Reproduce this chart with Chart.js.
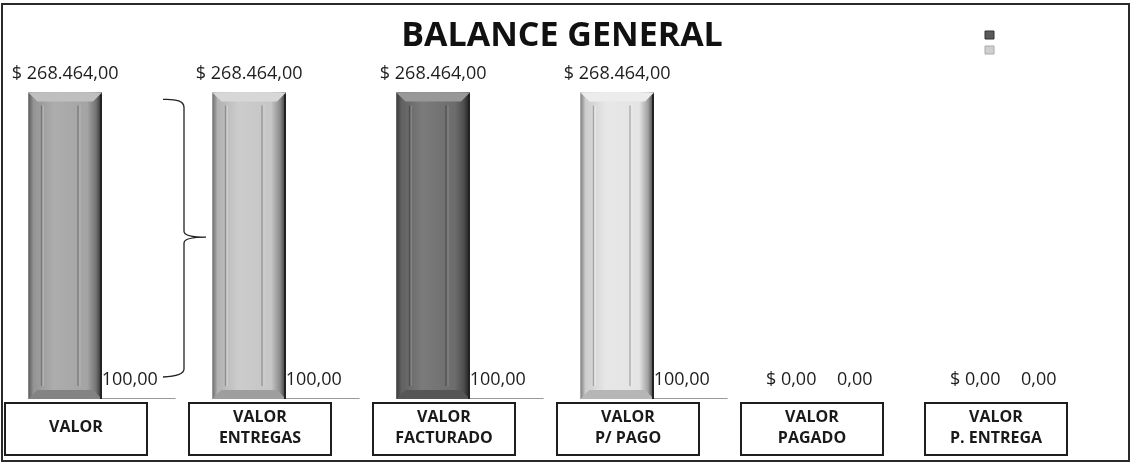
<!DOCTYPE html>
<html><head><meta charset="utf-8">
<script src="https://cdn.jsdelivr.net/npm/chart.js@4.4.0/dist/chart.umd.min.js"></script>
<style>html,body{margin:0;padding:0;background:#fff}#wrap{width:1132px;height:466px;position:relative}</style>
</head><body><div id="wrap"><canvas id="c" width="1132" height="466"></canvas></div>
<script>
// ---- data ----
const categories = [['VALOR'], ['VALOR', 'ENTREGAS'], ['VALOR', 'FACTURADO'], ['VALOR', 'P/ PAGO'], ['VALOR', 'PAGADO'], ['VALOR', 'P. ENTREGA']];
const valores = [268464, 268464, 268464, 268464, 0, 0];
const secundarios = [100, 100, 100, 100, 0, 0];
const barColors = ['#a4a4a4', '#c6c6c6', '#6c6c6c', '#e4e4e4', '#a4a4a4', '#a4a4a4'];
const chartTitle = 'BALANCE GENERAL';
const yMax = 300000;

function fmt(v) {
  const parts = v.toFixed(2).split('.');
  return parts[0].replace(/\B(?=(\d{3})+(?!\d))/g, '.') + ',' + parts[1];
}
function shade(hex, f) {
  const n = parseInt(hex.slice(1), 16);
  let r = (n >> 16) & 255, g = (n >> 8) & 255, b = n & 255;
  const t = f < 0 ? 0 : 255, p = Math.abs(f);
  r = Math.round(r + (t - r) * p); g = Math.round(g + (t - g) * p); b = Math.round(b + (t - b) * p);
  return 'rgb(' + r + ',' + g + ',' + b + ')';
}

const framePlugin = {
  id: 'frame',
  beforeDraw(chart) {
    const ctx = chart.ctx;
    ctx.save();
    ctx.fillStyle = '#fff';
    ctx.fillRect(0, 0, chart.width, chart.height);
    ctx.restore();
  },
  afterDraw(chart) {
    const ctx = chart.ctx;
    ctx.save();
    ctx.strokeStyle = '#2a2a2a';
    ctx.lineWidth = 2;
    ctx.strokeRect(2, 4, chart.width - 5, chart.height - 9);
    ctx.restore();
  }
};

const bevelPlugin = {
  id: 'bevel',
  afterDatasetDraw(chart, args) {
    if (args.index !== 0) return;
    const ctx = chart.ctx;
    const meta = chart.getDatasetMeta(0);
    meta.data.forEach((el, i) => {
      const p = el.getProps(['x', 'y', 'base', 'width'], true);
      const h = p.base - p.y;
      if (h < 4) return;
      const l = p.x - p.width / 2, r = p.x + p.width / 2, t = p.y, b = p.base, w = p.width;
      const c = barColors[i];
      ctx.save();
      const g = ctx.createLinearGradient(l, 0, r, 0);
      g.addColorStop(0, shade(c, -0.45));
      g.addColorStop(0.07, shade(c, -0.1));
      g.addColorStop(0.35, shade(c, 0.1));
      g.addColorStop(0.8, c);
      g.addColorStop(0.92, shade(c, -0.3));
      g.addColorStop(1, shade(c, -0.75));
      ctx.fillStyle = g;
      ctx.fillRect(l, t, w, h);
      const bv = 9;
      ctx.beginPath();
      ctx.moveTo(l, t); ctx.lineTo(r, t); ctx.lineTo(r - bv, t + bv); ctx.lineTo(l + bv, t + bv); ctx.closePath();
      ctx.fillStyle = shade(c, 0.3);
      ctx.fill();
      ctx.beginPath();
      ctx.moveTo(l, b); ctx.lineTo(r, b); ctx.lineTo(r - bv, b - bv); ctx.lineTo(l + bv, b - bv); ctx.closePath();
      ctx.fillStyle = shade(c, -0.2);
      ctx.fill();
      ctx.strokeStyle = shade(c, -0.28);
      ctx.lineWidth = 1.2;
      ctx.beginPath();
      ctx.moveTo(l + 13, t + bv + 4); ctx.lineTo(l + 13, b - bv - 4);
      ctx.moveTo(r - 24, t + bv + 4); ctx.lineTo(r - 24, b - bv - 4);
      ctx.stroke();
      ctx.strokeStyle = shade(c, 0.2);
      ctx.lineWidth = 1;
      ctx.beginPath();
      ctx.moveTo(l + 15, t + bv + 4); ctx.lineTo(l + 15, b - bv - 4);
      ctx.moveTo(r - 22, t + bv + 4); ctx.lineTo(r - 22, b - bv - 4);
      ctx.stroke();
      ctx.fillStyle = '#222';
      ctx.fillRect(r - 2, t + 2, 2, h - 2);
      ctx.restore();
    });
  }
};

const labelPlugin = {
  id: 'valueLabels',
  afterDatasetsDraw(chart) {
    const ctx = chart.ctx;
    ctx.save();
    ctx.font = '18px "Open Sans"';
    ctx.fillStyle = '#1e1e1e';
    ctx.textAlign = 'center';
    ctx.textBaseline = 'middle';
    chart.getDatasetMeta(0).data.forEach((el, i) => {
      const v = valores[i];
      const off = v === 0 ? -10 : 0;
      ctx.fillText('$ ' + fmt(v), el.x + off, el.y - 19);
    });
    chart.getDatasetMeta(1).data.forEach((el, i) => {
      const v = secundarios[i];
      const off = v === 0 ? -20 : -9;
      ctx.fillText(fmt(v), el.x + off, el.base - 19);
    });
    ctx.restore();
  }
};

const bracePlugin = {
  id: 'brace',
  afterDatasetsDraw(chart) {
    const el = chart.getDatasetMeta(0).data[0];
    const p = el.getProps(['x', 'y', 'base', 'width'], true);
    const r = p.x + p.width / 2;
    const vx = r + 82, lx = r + 61, tip = r + 104;
    const top = p.y + 7, bot = p.base - 24, mid = (top + bot) / 2;
    const ctx = chart.ctx;
    ctx.save();
    ctx.strokeStyle = '#222';
    ctx.lineWidth = 1.3;
    ctx.beginPath();
    ctx.moveTo(lx, top);
    ctx.quadraticCurveTo(vx, top - 1, vx, top + 8);
    ctx.lineTo(vx, mid - 6);
    ctx.quadraticCurveTo(vx, mid, tip, mid);
    ctx.quadraticCurveTo(vx, mid, vx, mid + 6);
    ctx.lineTo(vx, bot - 6);
    ctx.quadraticCurveTo(vx, bot + 1, lx, bot + 2);
    ctx.stroke();
    ctx.restore();
  }
};

const boxPlugin = {
  id: 'catBoxes',
  afterLayout(chart) {
    const lg = chart.legend;
    if (lg) {
      const dx = 978 - lg.left, dy = 24 - lg.top;
      lg.left += dx; lg.right += dx; lg.top += dy; lg.bottom += dy;
    }
  },
  afterDraw(chart) {
    const xs = chart.scales.x;
    const ctx = chart.ctx;
    ctx.save();
    ctx.strokeStyle = '#1e1e1e';
    ctx.lineWidth = 2;
    xs.ticks.forEach((t, i) => {
      const cx = xs.getPixelForTick(i) - 26;
      ctx.strokeRect(cx - 71, xs.top + 4, 142, 52);
    });
    ctx.restore();
  }
};

new Chart(document.getElementById('c'), {
  type: 'bar',
  data: {
    labels: categories,
    datasets: [
      { label: '', data: valores, backgroundColor: barColors, borderWidth: 0, categoryPercentage: 0.8, barPercentage: 1 },
      { label: '', data: secundarios, backgroundColor: (ctx) => (secundarios[ctx.dataIndex] > 0 ? '#9a9a9a' : 'rgba(0,0,0,0)'), minBarLength: 1, borderWidth: 0, categoryPercentage: 0.8, barPercentage: 1 }
    ]
  },
  options: {
    responsive: false,
    animation: false,
    devicePixelRatio: 1,
    layout: { padding: { top: 17, left: 10, right: 18, bottom: -11 } },
    plugins: {
      title: { display: true, text: chartTitle, color: '#111', font: { family: 'Open Sans', size: 34, weight: 'bold', lineHeight: 1.13 }, padding: { top: 0, bottom: 1 } },
      legend: {
        display: true, position: 'chartArea', align: 'start',
        labels: {
          boxWidth: 9, boxHeight: 8, padding: 7, font: { size: 8 },
          generateLabels: () => [
            { text: '', fillStyle: '#5a5a5a', strokeStyle: '#333', lineWidth: 1, hidden: false, datasetIndex: 0 },
            { text: '', fillStyle: '#cfcfcf', strokeStyle: '#aaa', lineWidth: 1, hidden: false, datasetIndex: 1 }
          ]
        }
      },
      tooltip: { enabled: false }
    },
    scales: {
      x: {
        grid: { display: false, drawTicks: false }, border: { display: false },
        ticks: { color: '#1a1a1a', font: { family: 'Open Sans', size: 16, weight: 'bold', lineHeight: 21 / 16 }, padding: 18, crossAlign: 'center', labelOffset: -26, autoSkip: false, maxRotation: 0 }
      },
      y: { display: false, min: 0, max: yMax }
    }
  },
  plugins: [framePlugin, bevelPlugin, labelPlugin, bracePlugin, boxPlugin]
});
</script></body></html>
